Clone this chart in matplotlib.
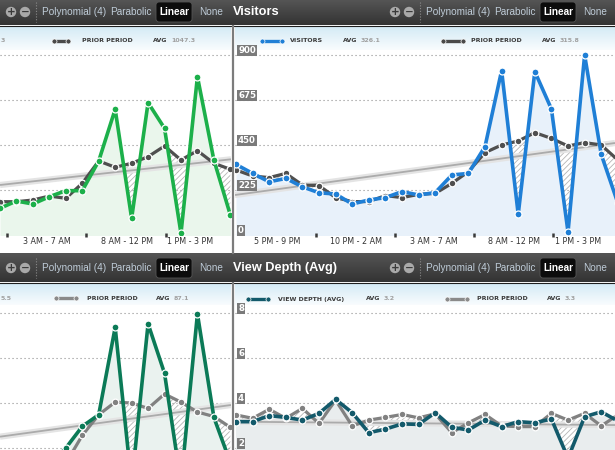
import numpy as np
import matplotlib
matplotlib.use("Agg")
import matplotlib.pyplot as plt
from matplotlib.colors import LinearSegmentedColormap
from matplotlib.patches import Circle, FancyBboxPatch
from matplotlib.transforms import blended_transform_factory as blend

plt.rcParams['hatch.linewidth'] = 0.6

# ---------------- data ----------------
# top-left panel (partial, current series green)
tl_x = list(range(15))
tl_cur = [475, 604, 551, 681, 788, 788, 1316, 2235, 297, 2352, 1897, 30, 2815, 1333, 356]
tl_prior = [592, 592, 622, 693, 652, 919, 1316, 1204, 1275, 1392, 1582, 1333, 1499, 1275, 1168]
tl_trend_x = [0, 14.04]
tl_trend_y = [889, 1346]
tl_ticks = [0.43, 5.23, 10.09]
tl_label_pos = [2.86, 7.72, 11.55]
tl_labels = ["3 AM - 7 AM", "8 AM - 12 PM", "1 PM - 3 PM"]

# top-right panel: Visitors
tr_x = list(range(24))
visitors = [353, 308, 266, 283, 241, 211, 205, 155, 175, 187, 217, 200, 212, 300, 308,
            442, 822, 103, 817, 630, 15, 900, 403, 160]
visitors_prior = [325, 295, 287, 308, 250, 247, 187, 167, 167, 197, 187, 203, 208, 258, 317,
                  412, 450, 470, 512, 483, 445, 462, 450, 375]
tr_trend_x = [-0.06, 22.83]
tr_trend_y = [200, 460]
tr_yticks = [0, 225, 450, 675, 900]
tr_ticks = [4.82, 9.58, 14.34, 19.10]
tr_label_pos = [2.47, 7.23, 11.93, 16.75, 20.6]
tr_labels = ["5 PM - 9 PM", "10 PM - 2 AM", "3 AM - 7 AM", "8 AM - 12 PM", "1 PM - 3 PM"]

# bottom-left panel (partial)
bl_x = list(range(15))
bl_cur = [30, 28, 30, 30, 50, 74, 87, 184, 10, 188, 133, 11, 199, 84, 34]
bl_prior = [30, 31, 32, 32, 33, 64, 87, 101, 100, 94, 110, 101, 90, 85, 73]
bl_trend_x = [0, 14.04]
bl_trend_y = [62.6, 97.8]

# bottom-right panel: View Depth (Avg)
br_x = list(range(24))
depth = [3.17, 3.17, 3.44, 3.36, 3.24, 3.54, 4.16, 3.57, 2.68, 2.84, 3.07, 3.05, 3.57, 2.92,
         2.80, 3.24, 2.95, 3.17, 3.12, 3.29, 1.55, 3.39, 3.61, 3.20]
depth_prior = [3.47, 3.32, 3.72, 3.32, 3.76, 3.09, 4.13, 2.98, 3.24, 3.36, 3.49, 3.34, 3.52, 2.68,
               3.12, 3.49, 2.98, 2.95, 2.95, 3.54, 3.24, 3.54, 2.98, 3.47]
br_trend_x = [-0.06, 22.83]
br_trend_y = [3.17, 3.02]
br_yticks = [2, 4, 6, 8]

# ---------------- layout helpers ----------------
W, H = 615, 450
fig = plt.figure(figsize=(W / 100, H / 100), dpi=100)
fig.patch.set_facecolor("white")
bg = fig.add_axes([0, 0, 1, 1])
bg.set_zorder(0)
bg.axis("off")


def grad(x0, x1, y0, y1, c0, c1):
    cm = LinearSegmentedColormap.from_list("g", [c0, c1])
    g = np.linspace(0, 1, 64).reshape(-1, 1)
    bg.imshow(g, extent=[x0, x1, y1, y0], aspect="auto", cmap=cm, origin="upper",
              interpolation="bilinear")


def add_ax(x0, y0, x1, y1):
    ax = fig.add_axes([x0 / W, 1 - y1 / H, (x1 - x0) / W, (y1 - y0) / H])
    ax.set_zorder(2)
    ax.patch.set_alpha(0)
    for s in ax.spines.values():
        s.set_visible(False)
    ax.set_yticks([])
    return ax


# toolbars
grad(0, W, 0, 25, "#555555", "#333333")
grad(0, W, 253, 282, "#555555", "#333333")
bg.plot([0, W], [25.5, 25.5], color="#1e1e1e", lw=0.8)
bg.plot([0, W], [282.5, 282.5], color="#1e1e1e", lw=0.8)
# legend strips
for (x0, x1) in [(0, 231), (235, W)]:
    grad(x0, x1, 26, 50, "#d3eaf5", "#f9fcfe")
    grad(x0, x1, 283, 305, "#d3eaf5", "#f9fcfe")
# divider
bg.plot([232.8, 232.8], [26, 253], color="#7c7c7c", lw=1.6)
bg.plot([232.8, 232.8], [283, 450], color="#7c7c7c", lw=1.6)

tb_font = "Liberation Sans"
opt_color = "#bfccd8"


def toolbar(yc, title):
    for off in (0, 384):
        for cx, sym in ((11 + off, "+"), (25 + off, "\u2212")):
            bg.add_patch(Circle((cx, yc), 5.2, facecolor="#a9a9a9", edgecolor="none", zorder=3))
            bg.text(cx, yc + 0.3, sym, ha="center", va="center", fontsize=7.5,
                    fontweight="bold", color="#3a3a3a", zorder=4, family="DejaVu Sans")
        bg.plot([36 + off, 36 + off], [yc - 10, yc + 10], color="#8a8a8a", lw=0.8,
                linestyle=(0, (1, 1.5)), zorder=3)
        bg.text(42 + off, yc, "Polynomial (4)", ha="left", va="center", fontsize=7.2,
                color=opt_color, family=tb_font, zorder=4)
        bg.text(110 + off, yc, "Parabolic", ha="left", va="center", fontsize=7.2,
                color=opt_color, family=tb_font, zorder=4)
        bg.add_patch(FancyBboxPatch((156 + off, yc - 10), 36, 20,
                                    boxstyle="round,pad=0,rounding_size=3",
                                    facecolor="#0c0c0c", edgecolor="#555555", lw=0.6, zorder=3))
        bg.text(174 + off, yc, "Linear", ha="center", va="center", fontsize=7.2,
                fontweight="bold", color="white", family=tb_font, zorder=4)
        bg.text(199 + off, yc, "None", ha="left", va="center", fontsize=7.2,
                color=opt_color, family=tb_font, zorder=4)
    bg.text(233, yc, title, ha="left", va="center", fontsize=9.2, fontweight="bold",
            color="white", family=tb_font, zorder=4)


toolbar(12, "Visitors")
toolbar(268, "View Depth (Avg)")

lg_font = dict(fontsize=4.5, family="DejaVu Sans", fontweight="bold", va="center", zorder=4)
dark_txt = "#3a3a3a"
num_txt = "#a0a0a0"


def legend_item(x0, x1, y, color):
    bg.plot([x0 + 2, x1 - 2], [y, y], color=color, lw=2.4, marker="o", ms=3.6,
            markeredgecolor="white", markeredgewidth=0.5, zorder=4, solid_capstyle="butt")


# top strips
legend_item(52, 70, 41, "#4a4a4a")
bg.text(0.5, 41, "3", color=num_txt, **lg_font)
bg.text(82, 41, "PRIOR PERIOD", color=dark_txt, **lg_font)
bg.text(153, 41, "AVG", color=dark_txt, **lg_font)
bg.text(171, 41, "1047.3", color=num_txt, **lg_font)
legend_item(260, 284, 41, "#1f7fd6")
bg.text(290, 41, "VISITORS", color=dark_txt, **lg_font)
bg.text(343, 41, "AVG", color=dark_txt, **lg_font)
bg.text(361, 41, "326.1", color=num_txt, **lg_font)
legend_item(441, 465, 41, "#4a4a4a")
bg.text(471, 41, "PRIOR PERIOD", color=dark_txt, **lg_font)
bg.text(542, 41, "AVG", color=dark_txt, **lg_font)
bg.text(560, 41, "315.8", color=num_txt, **lg_font)
# bottom strips
legend_item(54, 78, 298, "#8a8a8a")
bg.text(0.5, 298, "5.5", color=num_txt, **lg_font)
bg.text(87, 298, "PRIOR PERIOD", color=dark_txt, **lg_font)
bg.text(156, 298, "AVG", color=dark_txt, **lg_font)
bg.text(174, 298, "87.1", color=num_txt, **lg_font)
legend_item(246, 270, 299, "#135a6b")
bg.text(278, 299, "VIEW DEPTH (AVG)", color=dark_txt, **lg_font)
bg.text(366, 299, "AVG", color=dark_txt, **lg_font)
bg.text(384, 299, "3.2", color=num_txt, **lg_font)
legend_item(445, 469, 299, "#8a8a8a")
bg.text(477, 299, "PRIOR PERIOD", color=dark_txt, **lg_font)
bg.text(547, 299, "AVG", color=dark_txt, **lg_font)
bg.text(565, 299, "3.3", color=num_txt, **lg_font)

bg.set_xlim(0, W)
bg.set_ylim(H, 0)


def draw_panel(ax, x, cur, prior, cur_c, fill_c, prior_c, grid_vals, tx, ty, baseline=None):
    x = np.asarray(x, float)
    cur = np.asarray(cur, float)
    prior = np.asarray(prior, float)
    for g in grid_vals:
        ax.axhline(g, color="#8f8f8f", lw=0.8, linestyle=(0, (1, 2.6)), zorder=1)
    if baseline is not None:
        ax.axhline(baseline, color="#c8c8c8", lw=0.8, zorder=1)
    ax.fill_between(x, ax.get_ylim()[0] - 1000, cur, color=fill_c, lw=0, zorder=1)
    ax.fill_between(x, cur, prior, where=prior > cur, interpolate=True, facecolor="none",
                    edgecolor="#b4b4b4", hatch="//////", lw=0, zorder=2)
    ax.plot(tx, ty, color="#e4e4e4", lw=4.5, zorder=3, solid_capstyle="butt")
    ax.plot(tx, ty, color="#ababab", lw=1.3, zorder=3, solid_capstyle="butt")
    ax.plot(x, prior, color=prior_c, lw=2.3, marker="o", ms=4.8, markeredgecolor="white",
            markeredgewidth=0.9, zorder=4)
    ax.plot(x, cur, color=cur_c, lw=2.6, marker="o", ms=5.0, markeredgecolor="white",
            markeredgewidth=0.9, zorder=5)


def xaxis(ax, ticks, label_pos, labels):
    ax.set_xticks(ticks)
    ax.set_xticklabels([])
    ax.tick_params(axis="x", length=2.2, width=1.8, color="#3a3a3a", direction="inout")
    tr = blend(ax.transData, ax.transAxes)
    for p, lab in zip(label_pos, labels):
        ax.text(p, -0.036, lab, transform=tr, ha="center", va="center", fontsize=5.8,
                color="#333333", family="DejaVu Sans")


def ylabels(ax, vals, fmt):
    tr = blend(ax.transAxes, ax.transData)
    for v in vals:
        ax.text(0.008, v, fmt(v), transform=tr, ha="left", va="bottom", fontsize=6.2,
                fontweight="bold", color="white", family="DejaVu Sans", zorder=6,
                bbox=dict(boxstyle="square,pad=0.14", facecolor="#7a7a7a", edgecolor="none"))


# top-left
ax1 = add_ax(0, 50, 231, 235)
ax1.set_xlim(0, 14.04)
ax1.set_ylim(0, 3289)
draw_panel(ax1, tl_x, tl_cur, tl_prior, "#1cb04a", "#eaf6ec", "#4f4f4f",
           [800, 1600, 2400, 3200], tl_trend_x, tl_trend_y, baseline=0)
xaxis(ax1, tl_ticks, tl_label_pos, tl_labels)

# top-right
ax2 = add_ax(235, 50, W, 235)
ax2.set_xlim(tr_x[0] - 0.06, 22.83)
ax2.set_ylim(0, 925)
draw_panel(ax2, tr_x, visitors, visitors_prior, "#1f7fd6", "#e8f1fa", "#4f4f4f",
           tr_yticks[1:], tr_trend_x, tr_trend_y, baseline=0)
xaxis(ax2, tr_ticks, tr_label_pos, tr_labels)
ylabels(ax2, tr_yticks, lambda v: f"{v}")

# bottom-left
ax3 = add_ax(0, 305, 231, H)
ax3.set_xlim(0, 14.04)
ax3.set_ylim(47.8, 208.9)
draw_panel(ax3, bl_x, bl_cur, bl_prior, "#0b7a57", "#eaf2ef", "#818181",
           [50, 100, 150, 200], bl_trend_x, bl_trend_y)
ax3.set_xticks([])

# bottom-right
ax4 = add_ax(235, 305, W, H)
ax4.set_xlim(br_x[0] - 0.06, 22.83)
ax4.set_ylim(1.911, 8.356)
draw_panel(ax4, br_x, depth, depth_prior, "#135a6b", "#e9edee", "#818181",
           br_yticks, br_trend_x, br_trend_y)
ax4.set_xticks([])
ylabels(ax4, br_yticks, lambda v: f"{v}")

fig.savefig("out.png", dpi=100)
